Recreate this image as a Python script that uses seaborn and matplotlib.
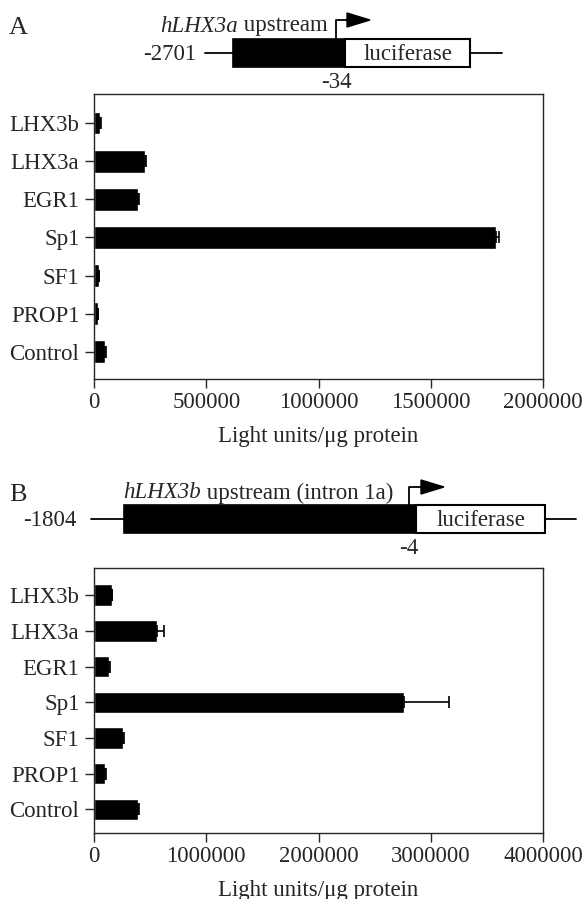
import seaborn as sns
import pandas as pd
import matplotlib.pyplot as plt
import numpy as np
from matplotlib.patches import Rectangle, Polygon

# data
factors = ["LHX3b", "LHX3a", "EGR1", "Sp1", "SF1", "PROP1", "Control"]
lhx3a_values = [28000, 228000, 195000, 1790000, 22000, 17000, 50000]
lhx3a_errors = [3000, 4000, 4000, 15000, 2000, 2000, 4000]
lhx3b_values = [156000, 565000, 136000, 2760000, 259000, 100000, 389000]
lhx3b_errors = [8000, 60000, 8000, 400000, 8000, 8000, 8000]
ticks_a = [0, 500000, 1000000, 1500000, 2000000]
ticks_b = [0, 1000000, 2000000, 3000000, 4000000]
xlabel = "Light units/\u03bcg protein"

sns.set_style("ticks")
plt.rcParams["font.family"] = ["Liberation Serif", "DejaVu Serif"]
plt.rcParams["axes.linewidth"] = 1.0
FS = 16.5

W, H = 584, 899
fig = plt.figure(figsize=(W / 100, H / 100), dpi=100)


def px_axes(left, top, right, bottom):
    return fig.add_axes([left / W, 1 - bottom / H, (right - left) / W, (bottom - top) / H])


# overlay in pixel coordinates for the promoter schematics
ov = fig.add_axes([0, 0, 1, 1])
ov.set_xlim(0, W)
ov.set_ylim(H, 0)
ov.axis("off")


def schematic(y, x0, xb, xw, xe, x1, xarr, arr_top, arr_end, left_lbl, lbl_x, tss_lbl, tss_y,
              title_it, title_rest, title_x, title_y, letter, letter_y):
    ov.plot([x0, x1], [y, y], color="black", lw=1.3, zorder=0)
    ov.add_patch(Rectangle((xb, y - 14), xw - xb, 28, facecolor="black", edgecolor="black",
                           lw=1.2, zorder=1))
    ov.add_patch(Rectangle((xw, y - 14), xe - xw, 28, facecolor="white", edgecolor="black",
                           lw=1.5, zorder=1))
    ov.text((xw + xe) / 2, y + 1, "luciferase", ha="center", va="center", fontsize=FS)
    ov.text(lbl_x, y + 2, left_lbl, ha="right", va="center", fontsize=FS)
    ov.text(xarr, tss_y, tss_lbl, ha="center", va="center", fontsize=FS)
    ov.plot([xarr, xarr, arr_end - 22], [y - 14, arr_top, arr_top], color="black", lw=1.3)
    ov.add_patch(Polygon([[arr_end - 23, arr_top - 7], [arr_end - 23, arr_top + 7], [arr_end, arr_top]],
                         closed=True, facecolor="black", edgecolor="black"))
    t = ov.text(title_x, title_y, title_it, ha="left", va="center", fontsize=FS, fontstyle="italic")
    ov.annotate(title_rest, xy=(1, 0.5), xycoords=t, ha="left", va="center", fontsize=FS)
    ov.text(18, letter_y, letter, ha="center", va="center", fontsize=19)


schematic(53, 205, 233, 345, 470, 502, 336, 20, 370, "-2701", 196, "-34", 82,
          "hLHX3a", " upstream", 160, 26, "A", 28)
schematic(519, 91, 124, 416, 545, 576, 409, 487, 444, "-1804", 77, "-4", 549,
          "hLHX3b", " upstream (intron 1a)", 123, 493, "B", 495)


def panel(ax, values, errors, ticks, ylim):
    df = pd.DataFrame({"factor": factors, "value": values})
    sns.barplot(data=df, x="value", y="factor", color="black", width=0.6,
                errorbar=None, saturation=1, ax=ax)
    pos = np.arange(len(factors))
    ax.errorbar(values, pos, xerr=[np.zeros(len(errors)), errors], fmt="none",
                ecolor="black", elinewidth=1.2, capsize=4.5, capthick=1.2)
    ax.set_xlim(ticks[0], ticks[-1])
    ax.set_ylim(*ylim)
    ax.set_xticks(ticks)
    ax.set_xticklabels([str(t) for t in ticks])
    ax.set_ylabel("")
    ax.set_xlabel(xlabel, fontsize=FS, labelpad=9)
    ax.tick_params(axis="both", labelsize=FS, length=6.5, width=1.0, direction="out")
    ax.tick_params(axis="y", pad=4)
    ax.tick_params(axis="x", pad=3)
    for s in ax.spines.values():
        s.set_visible(True)
        s.set_linewidth(1.0)


ax_a = px_axes(94, 94, 543, 379)
panel(ax_a, lhx3a_values, lhx3a_errors, ticks_a, (6.71, -0.76))
ax_b = px_axes(94, 568, 543, 833)
panel(ax_b, lhx3b_values, lhx3b_errors, ticks_b, (6.66, -0.76))

fig.savefig("out.png", dpi=100)
